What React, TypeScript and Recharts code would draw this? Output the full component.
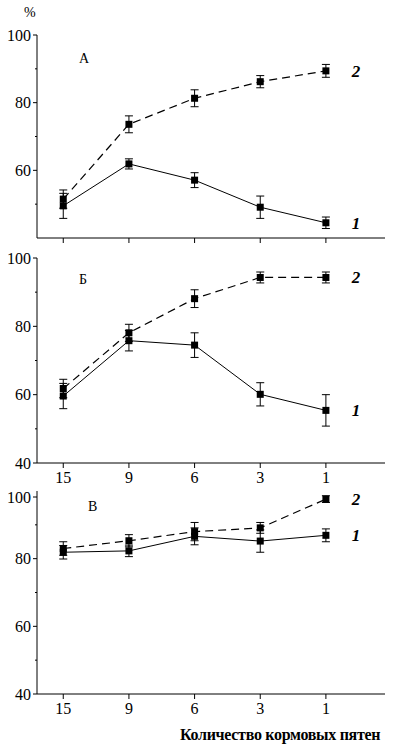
import React from 'react';
import { LineChart, Line, XAxis, YAxis, ErrorBar, LabelList } from 'recharts';

// x categories: number of food patches
const CATEGORIES = ['15', '9', '6', '3', '1'];

// Panel А
const A_LINE1 = [49.5, 61.9, 57.1, 49.1, 44.5];
const A_ERR1 = [3.7, 1.5, 2.2, 3.3, 1.7];
const A_LINE2 = [51.5, 73.6, 81.3, 86.2, 89.4];
const A_ERR2 = [2.7, 2.5, 2.5, 1.8, 1.9];

// Panel Б
const B_LINE1 = [59.6, 75.8, 74.5, 60.1, 55.4];
const B_ERR1 = [3.7, 3.0, 3.6, 3.4, 4.6];
const B_LINE2 = [61.8, 78.1, 88.1, 94.3, 94.3];
const B_ERR2 = [2.7, 2.5, 2.6, 1.6, 1.6];

// Panel В
const V_LINE1 = [81.9, 82.3, 86.6, 85.2, 86.9];
const V_ERR1 = [2.0, 1.7, 2.5, 3.3, 1.9];
const V_LINE2 = [83.0, 85.3, 88.0, 89.1, 97.6];
const V_ERR2 = [2.0, 1.8, 2.7, 1.6, 1.0];

const Y_TICKS = [40, 50, 60, 70, 80, 90, 100];
const FONT = "'Liberation Serif', 'DejaVu Serif', serif";

const buildRows = (s1: number[], e1: number[], s2: number[], e2: number[]) =>
  CATEGORIES.map((c, i) => ({ i, cat: c, s1: s1[i], e1: e1[i], s2: s2[i], e2: e2[i] }));

const SquareDot = (props: any) => {
  const { cx, cy, index } = props;
  if (cx == null || cy == null) return <g key={index} />;
  return <rect key={index} x={cx - 3.5} y={cy - 3.5} width={7} height={7} fill="#000" />;
};

const YTick = (props: any) => {
  const { x, y, payload } = props;
  const major = payload.value % 20 === 0;
  return (
    <g>
      <line x1={x - (major ? 4 : 2)} x2={x} y1={y} y2={y} stroke="#000" strokeWidth={1} />
      {major && (
        <text x={x - 6} y={y} dy="0.35em" textAnchor="end" fontSize={16} style={{ fontFamily: FONT }} fill="#000">
          {payload.value}
        </text>
      )}
    </g>
  );
};

const XTick = (props: any) => {
  const { x, y, payload, show } = props;
  return (
    <g>
      <line x1={x} x2={x} y1={y} y2={y + 5} stroke="#000" strokeWidth={1} />
      {show && (
        <text x={x} y={y + 7} dy="0.8em" textAnchor="middle" fontSize={16} style={{ fontFamily: FONT }} fill="#000">
          {CATEGORIES[payload.value]}
        </text>
      )}
    </g>
  );
};

const seriesLabel = (text: string) => (props: any) => {
  const { x, y, index } = props;
  if (index !== CATEGORIES.length - 1) return null;
  return (
    <text x={x + 30} y={y} dy="0.35em" textAnchor="middle" fontSize={17} fontStyle="italic"
      fontWeight="bold" style={{ fontFamily: FONT }} fill="#000">
      {text}
    </text>
  );
};

interface PanelProps {
  rows: any[];
  top: number;
  height: number;
  marginTop: number;
  axisHeight: number;
  showLabels: boolean;
  letter: string;
  letterX: number;
  letterY: number;
}

const Panel: React.FC<PanelProps> = ({ rows, top, height, marginTop, axisHeight, showLabels, letter, letterX, letterY }) => (
  <div style={{ position: 'absolute', left: 0, top, width: 394, height }}>
    <LineChart width={394} height={height} data={rows} margin={{ top: marginTop, right: 9, bottom: 0, left: 0 }}>
      <XAxis
        type="number"
        dataKey="i"
        domain={[-0.4, 4.9]}
        ticks={[0, 1, 2, 3, 4]}
        allowDataOverflow
        height={axisHeight}
        tickSize={0}
        tickMargin={0}
        tick={<XTick show={showLabels} />}
        stroke="#000"
      />
      <YAxis
        type="number"
        domain={[40, 100]}
        ticks={Y_TICKS}
        width={37}
        tickSize={0}
        tickMargin={0}
        tick={<YTick />}
        stroke="#000"
        allowDataOverflow
      />
      <Line type="linear" dataKey="s2" stroke="#000" strokeWidth={1.2} strokeDasharray="8 5"
        dot={SquareDot} activeDot={false} isAnimationActive={false}>
        <ErrorBar dataKey="e2" width={4} stroke="#000" strokeWidth={1} direction="y" />
        <LabelList dataKey="s2" content={seriesLabel('2')} />
      </Line>
      <Line type="linear" dataKey="s1" stroke="#000" strokeWidth={1} dot={SquareDot}
        activeDot={false} isAnimationActive={false}>
        <ErrorBar dataKey="e1" width={4} stroke="#000" strokeWidth={1} direction="y" />
        <LabelList dataKey="s1" content={seriesLabel('1')} />
      </Line>
    </LineChart>
    <div style={{ position: 'absolute', left: letterX, top: letterY, fontFamily: FONT, fontSize: 14, lineHeight: 1 }}>
      {letter}
    </div>
  </div>
);

export default function App() {
  return (
    <div style={{ position: 'absolute', left: 0, top: 0, width: 394, height: 747, background: '#fff', fontFamily: FONT }}>
      <Panel rows={buildRows(A_LINE1, A_ERR1, A_LINE2, A_ERR2)} top={0} height={245} marginTop={35}
        axisHeight={7} showLabels={false} letter="А" letterX={79} letterY={52} />
      <Panel rows={buildRows(B_LINE1, B_ERR1, B_LINE2, B_ERR2)} top={245} height={243} marginTop={13}
        axisHeight={25} showLabels letter="Б" letterX={79} letterY={28} />
      <Panel rows={buildRows(V_LINE1, V_ERR1, V_LINE2, V_ERR2)} top={488} height={236} marginTop={3}
        axisHeight={30} showLabels letter="В" letterX={88} letterY={12} />
      <div style={{ position: 'absolute', left: 24, top: 6, fontSize: 14, lineHeight: 1 }}>%</div>
      <div style={{ position: 'absolute', left: 180, top: 727, fontSize: 16, fontWeight: 'bold', lineHeight: 1, whiteSpace: 'nowrap', letterSpacing: -0.3 }}>
        Количество кормовых пятен
      </div>
    </div>
  );
}
